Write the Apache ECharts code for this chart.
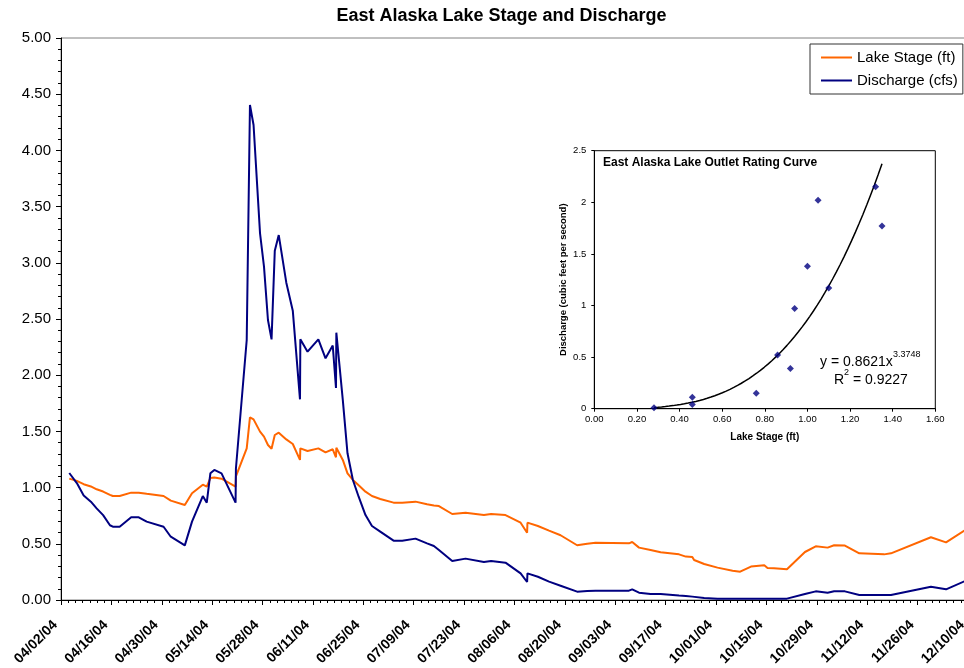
<!DOCTYPE html>
<html>
<head>
<meta charset="utf-8">
<script src="https://cdn.jsdelivr.net/npm/echarts@6/dist/echarts.min.js"></script>
<style>
html,body{margin:0;padding:0;background:#fff;}
#chart{width:964px;height:668px;}
</style>
</head>
<body>
<div id="chart"></div>
<script>
// ---- Main chart data (x = days since 04/02/04) ----
const tickLabels = ['04/02/04','04/16/04','04/30/04','05/14/04','05/28/04','06/11/04','06/25/04','07/09/04','07/23/04','08/06/04','08/20/04','09/03/04','09/17/04','10/01/04','10/15/04','10/29/04','11/12/04','11/26/04','12/10/04'];
const days = [2.3,4.4,6.3,8.3,9.9,11.7,13.6,14.4,16.3,19.5,21.6,23.8,28.5,30.5,34.4,36.4,39.4,40.5,41.5,42.6,44.6,48.5,48.6,51.6,52.5,53.5,55.3,56.4,57.5,58.5,59.4,60.5,62.6,64.4,66.4,66.5,68.5,71.5,73.5,75.5,76.4,76.5,78.3,79.6,81.1,82.7,84.6,86.4,88.7,92.4,94.8,98.5,101.7,103.6,105.0,108.7,112.4,117.5,119.5,123.5,127.7,129.5,129.6,132.5,135.6,138.8,143.4,146.2,148.5,157.8,158.7,160.6,163.8,166.6,171.7,173.6,175.4,175.9,178.7,182.4,186.6,188.7,191.7,195.4,196.3,198.1,201.7,206.7,209.7,213.0,214.8,217.8,221.8,228.7,230.6,241.7,245.9,251.0];
const lakeStage = [1.08,1.06,1.03,1.01,0.985,0.965,0.935,0.925,0.925,0.955,0.955,0.945,0.925,0.884,0.845,0.949,1.026,1.008,1.085,1.09,1.079,1.008,1.10,1.349,1.625,1.607,1.498,1.453,1.379,1.346,1.468,1.489,1.429,1.388,1.246,1.349,1.326,1.349,1.314,1.341,1.270,1.355,1.246,1.127,1.068,1.02,0.964,0.925,0.899,0.866,0.866,0.875,0.851,0.84,0.836,0.765,0.777,0.756,0.765,0.756,0.688,0.599,0.688,0.658,0.617,0.576,0.487,0.501,0.510,0.504,0.516,0.466,0.445,0.424,0.406,0.386,0.383,0.356,0.320,0.288,0.261,0.252,0.297,0.309,0.285,0.282,0.273,0.427,0.478,0.466,0.487,0.484,0.415,0.406,0.415,0.558,0.513,0.617];
const discharge = [1.13,1.04,0.93,0.875,0.815,0.755,0.665,0.652,0.652,0.736,0.736,0.697,0.652,0.563,0.486,0.697,0.925,0.866,1.127,1.157,1.127,0.866,1.17,2.313,4.404,4.226,3.262,2.966,2.491,2.319,3.108,3.247,2.823,2.574,1.785,2.319,2.209,2.319,2.150,2.264,1.886,2.378,1.779,1.305,1.068,0.919,0.756,0.658,0.608,0.528,0.528,0.546,0.504,0.480,0.445,0.347,0.368,0.338,0.347,0.332,0.237,0.160,0.237,0.207,0.163,0.127,0.074,0.080,0.083,0.083,0.095,0.065,0.053,0.053,0.04,0.036,0.030,0.028,0.018,0.012,0.012,0.012,0.012,0.012,0.012,0.012,0.012,0.053,0.077,0.065,0.077,0.077,0.044,0.044,0.044,0.118,0.095,0.166];

// ---- Inset rating curve data ----
const ratingStage = [0.28,0.46,0.46,0.76,0.86,0.92,0.94,1.00,1.05,1.10,1.32,1.35];
const ratingDischarge = [0.01,0.11,0.04,0.15,0.52,0.39,0.97,1.38,2.02,1.17,2.15,1.77];
// Power trendline shown on chart: y = 0.8621 x^3.3748
const trendCoef = 0.8621, trendExp = 3.3748, trendFrom = 0.28, trendTo = 1.35;

const FONT = 'Liberation Sans, Arial, sans-serif';
const mainData = (vals) => days.map((d, i) => [d, vals[i]]);
const ratingData = ratingStage.map((s, i) => [s, ratingDischarge[i]]);
const trendData = [];
for (let k = 0; k <= 60; k++) {
  const x = trendFrom + (trendTo - trendFrom) * k / 60;
  trendData.push([x, trendCoef * Math.pow(x, trendExp)]);
}

const chart = echarts.init(document.getElementById('chart'), null, {renderer: 'canvas'});
chart.setOption({
  animation: false,
  textStyle: {fontFamily: FONT},
  grid: [
    {left: 61, top: 38, width: 907, height: 562, show: true, borderColor: '#808080', borderWidth: 1, backgroundColor: 'transparent', outerBoundsMode: 'none', containLabel: false},
    {left: 594.3, top: 150.7, width: 341, height: 258, show: true, borderColor: '#000', borderWidth: 1, backgroundColor: '#fff', outerBoundsMode: 'none', containLabel: false}
  ],
  xAxis: [
    {
      type: 'value', gridIndex: 0, min: 0, max: 252, interval: 14,
      axisLine: {show: true, onZero: false, lineStyle: {color: '#000', width: 1}},
      axisTick: {show: true, length: 5, lineStyle: {color: '#000'}},
      minorTick: {show: true, splitNumber: 7, length: 3, lineStyle: {color: '#000'}},
      splitLine: {show: false},
      axisLabel: {
        rotate: 45, margin: 17, padding: [0, 8, 0, 0], color: '#000', fontSize: 14, fontWeight: 'bold', fontFamily: FONT,
        showMaxLabel: true, hideOverlap: false,
        formatter: (v) => tickLabels[Math.round(v / 14)] || ''
      }
    },
    {
      type: 'value', gridIndex: 1, min: 0, max: 1.6, interval: 0.2,
      axisLine: {show: true, onZero: false, lineStyle: {color: '#000', width: 1}},
      axisTick: {show: true, length: 3, lineStyle: {color: '#000'}},
      splitLine: {show: false},
      axisLabel: {margin: 6, color: '#000', fontSize: 9.5, fontFamily: FONT, formatter: (v) => v.toFixed(2)},
      name: 'Lake Stage (ft)', nameLocation: 'middle', nameGap: 24,
      nameTextStyle: {color: '#000', fontSize: 10, fontWeight: 'bold', fontFamily: FONT}
    }
  ],
  yAxis: [
    {
      type: 'value', gridIndex: 0, min: 0, max: 5, interval: 0.5,
      axisLine: {show: true, onZero: false, lineStyle: {color: '#000', width: 1}},
      axisTick: {show: true, length: 5, lineStyle: {color: '#000'}},
      minorTick: {show: true, splitNumber: 5, length: 3, lineStyle: {color: '#000'}},
      splitLine: {show: false},
      axisLabel: {margin: 10, color: '#000', fontSize: 15, fontFamily: FONT, formatter: (v) => v.toFixed(2)}
    },
    {
      type: 'value', gridIndex: 1, min: 0, max: 2.5, interval: 0.5,
      axisLine: {show: true, onZero: false, lineStyle: {color: '#000', width: 1}},
      axisTick: {show: true, length: 3, lineStyle: {color: '#000'}},
      splitLine: {show: false},
      axisLabel: {margin: 8, color: '#000', fontSize: 9.5, fontFamily: FONT, formatter: (v) => String(+v.toFixed(1))},
      name: 'Discharge (cubic feet per second)', nameLocation: 'middle', nameGap: 26,
      nameTextStyle: {color: '#000', fontSize: 9.5, fontWeight: 'bold', fontFamily: FONT}
    }
  ],
  legend: {
    orient: 'vertical', left: 810, top: 44,
    data: [{name: 'Lake Stage (ft)', icon: 'rect'}, {name: 'Discharge (cfs)', icon: 'rect'}],
    itemWidth: 31, itemHeight: 2, itemGap: 8,
    padding: [6, 5, 6, 11],
    backgroundColor: '#fff', borderColor: '#333', borderWidth: 1, borderRadius: 0,
    textStyle: {color: '#000', fontSize: 15, fontFamily: FONT}
  },
  series: [
    {
      name: 'Lake Stage (ft)', type: 'line', xAxisIndex: 0, yAxisIndex: 0,
      data: mainData(lakeStage), symbol: 'none', showSymbol: false,
      lineStyle: {color: '#FF6600', width: 2}, itemStyle: {color: '#FF6600'}
    },
    {
      name: 'Discharge (cfs)', type: 'line', xAxisIndex: 0, yAxisIndex: 0,
      data: mainData(discharge), symbol: 'none', showSymbol: false,
      lineStyle: {color: '#000080', width: 2}, itemStyle: {color: '#000080'}
    },
    {
      name: 'Power trend', type: 'line', xAxisIndex: 1, yAxisIndex: 1,
      data: trendData, symbol: 'none', showSymbol: false, smooth: false,
      lineStyle: {color: '#000', width: 1.5}, z: 3
    },
    {
      name: 'Rating', type: 'scatter', xAxisIndex: 1, yAxisIndex: 1,
      data: ratingData, symbol: 'diamond', symbolSize: 7,
      itemStyle: {color: '#000080'}, z: 4
    }
  ],
  graphic: [
    {type: 'text', x: 501.5, y: 16, z: 10, style: {text: 'East Alaska Lake Stage and Discharge', fill: '#000', font: 'bold 18px ' + FONT, align: 'center', verticalAlign: 'middle'}},
    {type: 'text', x: 603, y: 163, z: 10, style: {text: 'East Alaska Lake Outlet Rating Curve', fill: '#000', font: 'bold 12px ' + FONT, align: 'left', verticalAlign: 'middle'}},
    {type: 'text', x: 820, y: 362, z: 10, style: {text: 'y = 0.8621x', fill: '#000', font: '14px ' + FONT, align: 'left', verticalAlign: 'middle'}},
    {type: 'text', x: 893, y: 355, z: 10, style: {text: '3.3748', fill: '#000', font: '9px ' + FONT, align: 'left', verticalAlign: 'middle'}},
    {type: 'text', x: 834, y: 380, z: 10, style: {text: 'R', fill: '#000', font: '14px ' + FONT, align: 'left', verticalAlign: 'middle'}},
    {type: 'text', x: 844, y: 373, z: 10, style: {text: '2', fill: '#000', font: '9px ' + FONT, align: 'left', verticalAlign: 'middle'}},
    {type: 'text', x: 849, y: 380, z: 10, style: {text: ' = 0.9227', fill: '#000', font: '14px ' + FONT, align: 'left', verticalAlign: 'middle'}}
  ]
});
</script>
</body>
</html>
